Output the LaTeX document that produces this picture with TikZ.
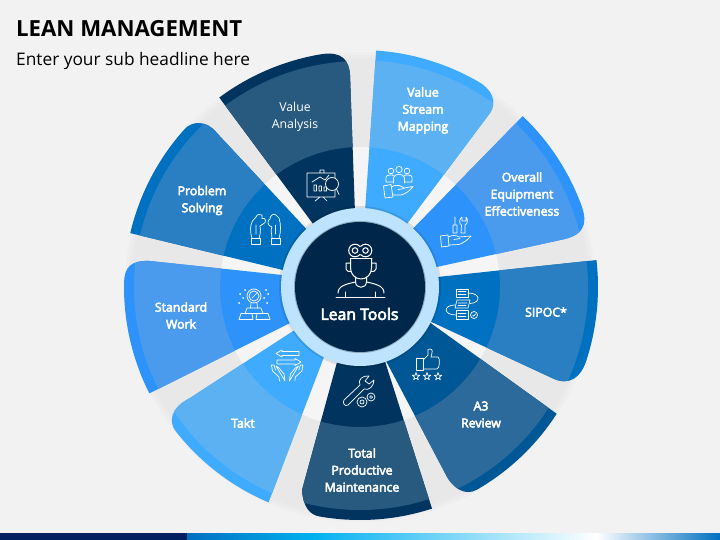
\documentclass[tikz,border=0pt]{standalone}
\usepackage{fontspec}
\setmainfont{Open Sans}
\newfontfamily\semifont[FakeBold=4]{Open Sans}
\usetikzlibrary{calc}
\definecolor{bgc}{HTML}{F2F2F2}
\definecolor{navyS}{HTML}{013560}\definecolor{navyO}{HTML}{285A80}
\definecolor{skyS}{HTML}{3FABFF}\definecolor{skyO}{HTML}{5BB1F2}
\definecolor{azS}{HTML}{2D93FB}\definecolor{azO}{HTML}{4A9AEE}
\definecolor{blS}{HTML}{0070C0}\definecolor{blO}{HTML}{2A7FC2}
\definecolor{steelS}{HTML}{005795}\definecolor{steelO}{HTML}{2B6A9B}
\definecolor{ringc}{HTML}{BDE3FF}\definecolor{corec}{HTML}{00264A}
\definecolor{barnavy}{HTML}{002060}\definecolor{barcyan}{HTML}{00B0F0}
\newcommand\pol[2]{([shift={(360,287)}]#1:#2)}
\newcommand\seg[6]{%
  \fill[#1] \pol{#3}{#5} arc[start angle=#3,end angle=#4,radius=#5] #6 -- cycle;
  \begin{scope}
    \clip \pol{#3}{#5} arc[start angle=#3,end angle=#4,radius=#5] #6 -- cycle;
    \fill[#2,even odd rule] (360,287) circle[radius=#5-10] (360,287) circle[radius=140];
  \end{scope}}
\tikzset{
  lbl/.style={text=white,align=center,inner sep=0pt,font=\semifont\fontsize{12.3}{17}\selectfont},
  lblthin/.style={text=white,align=center,inner sep=0pt,font=\fontsize{12.3}{17}\selectfont},
  ico/.style={draw=white,line width=0.7pt,line join=round,line cap=round},
  icob/.style={draw=white,line width=1pt,line join=round,line cap=round}
}
\begin{document}
\begin{tikzpicture}[x=1pt,y=-1pt]
\useasboundingbox (0,0) rectangle (720,540);
\fill[bgc] (0,0) rectangle (720,540);
% grey disc
\fill[black!6.5] (360,287) circle[radius=235];
\fill[black!8] (360,287) circle[radius=232];
\fill[black!9] (360,287) circle[radius=229];
\fill[black!4] (360,287) circle[radius=140];
% segments
\seg{navyS}{navyO}{-126.6}{-99.5}{236}{.. controls (342,51) and (349,60) .. (350,75) -- (356,240) -- (325,240)}
\seg{skyS}{skyO}{-86.1}{-60}{237}{.. controls (493,90) and (497,103) .. (490,113) -- (395,240) -- (363,240)}
\seg{azS}{azO}{-46.4}{-21.5}{236}{.. controls (586.6,217.5) and (589,233) .. (565,239) -- (400,275) -- (395,247)}
\seg{blS}{blO}{-6.5}{18.5}{238}{.. controls (581,376) and (570,387) .. (552,378) -- (395,305) -- (400,281)}
\seg{steelS}{steelO}{32.8}{60}{234}{.. controls (465,496.6) and (452,488) .. (445,473) -- (375,340) -- (400,301)}
\seg{navyS}{navyO}{72}{100}{233}{.. controls (310,515) and (303,507) .. (302,490) -- (345,333) -- (375,330)}
\seg{skyS}{skyO}{113}{142}{234}{.. controls (168.6,422) and (170,408) .. (190,398) -- (330,307) -- (340,315)}
\seg{azS}{azO}{153.2}{181}{236}{.. controls (124.3,268) and (130,260) .. (150,261) -- (320,279) -- (330,303)}
\seg{blS}{blO}{-166.8}{-138}{236}{.. controls (192,121) and (206,120) .. (216,132) -- (325,249) -- (320,279)}
% centre
\fill[black,opacity=.10] (360,287) circle[radius=81];
\fill[ringc] (360,287) circle[radius=79];
\fill[black,opacity=.25] (360,287) circle[radius=66];
\fill[corec] (360,287) circle[radius=65];
% title
\node[anchor=base west,inner sep=0pt,font=\bfseries\fontsize{22.2}{28}\selectfont] (title) at (16,37) {LEAN MANAGEMENT};
\node[anchor=base west,inner sep=0pt,font=\fontsize{17.3}{21}\selectfont] (sub) at (16,66) {Enter your sub headline here};
% labels
\node[lblthin] (va) at (295,117) {Value\\Analysis};
\node[lbl] (vsm) at (423,110.5) {Value\\Stream\\Mapping};
\node[lbl] (oee) at (522,194) {Overall\\Equipment\\Effectiveness};
\node[lbl] (sip) at (546,312) {SIPOC*};
\node[lbl] (a3) at (481,414.5) {A3\\Review};
\node[lbl] (tpm) at (362,470) {Total\\Productive\\Maintenance};
\node[lbl] (takt) at (243,423) {Takt};
\node[lbl] (sw) at (181,315.5) {Standard\\Work};
\node[lbl] (ps) at (202,200.5) {Problem\\Solving};
\node[text=white,inner sep=0pt,font=\semifont\fontsize{15.8}{19}\selectfont] (lt) at (359.5,314) {Lean Tools};
% centre icon
\draw[icob] (355,250.5) circle[radius=6.3] (365.5,250.5) circle[radius=6.3];
\fill[corec] (360.2,250.5) circle[radius=3.8];
\draw[icob] (355,250.5) circle[radius=2.8] (365.5,250.5) circle[radius=2.8];
\draw[icob] (350.5,258.5) -- (372,258.5);
\draw[icob] (350.5,258.5) -- (350.5,268) .. controls (350.5,274) and (355,279) .. (361,279) .. controls (367,279) and (371.5,274) .. (371.5,268) -- (371.5,258.5);
\draw[icob] (350.5,263) -- (346,263) -- (346,269) .. controls (346,271) and (349,272) .. (351,271.5) (371.5,263) -- (376,263) -- (376,269) .. controls (376,271) and (373,272) .. (371,271.5);
\draw[icob] (355.5,277) -- (355.5,282) .. controls (356,289) and (366,289) .. (366.5,282) -- (366.5,277);
\draw[icob] (338,293) .. controls (338,286) and (346,284) .. (355.5,282) (384,293) .. controls (384,286) and (376,284) .. (366.5,282);
\draw[icob] (336,297.5) -- (385,297.5) (345.5,292) -- (345.5,297.5) (375.5,292) -- (375.5,297.5);
% VA icon
\draw[ico] (307,173) rectangle (335,197) (320,173) -- (320,170) -- (324,170) -- (324,173) (320,197) -- (315,201) (323,197) -- (327,201);
\fill[corec!60!navyS] (332,184) circle[radius=6.5];
\draw[ico] (332,184) circle[radius=6.5] (336.5,189) -- (339,194.5);
\draw[ico] (314,191) rectangle (316.5,185) (319,191) rectangle (321.5,186) (324,191) rectangle (326.5,187) (312,182) -- (320,177) -- (325,180) -- (329,175);
% PS icon
\draw[ico] (251,238.5) rectangle (260,244) (271,238.5) rectangle (280,244);
\draw[ico] (252,238.5) .. controls (250,232) and (250,225) .. (252.5,221) -- (256,217) .. controls (257,214) and (260,214) .. (262,215) -- (262,218.5) .. controls (266,217) and (267,223) .. (263,224) -- (260,226) .. controls (261,231) and (260,235) .. (259,238.5) (256,225) -- (256,234);
\draw[ico] (272,238.5) .. controls (272,234) and (270,230) .. (272,227) .. controls (267,226) and (267,220) .. (270,219) .. controls (270,215) and (274,213) .. (276,215) -- (279,218) .. controls (281,224) and (281,232) .. (279,238.5) (275.5,225) -- (275.5,234);
% VSM icon
\draw[ico] (391,171) circle[radius=2.8] (399,169.5) circle[radius=3.2] (407,171) circle[radius=2.8];
\draw[ico] (386,182) -- (386,177) .. controls (386,175) and (393,174) .. (394,176) (412,182) -- (412,177) .. controls (412,175) and (405,174) .. (404,176) (393.5,183) -- (393.5,178) .. controls (394,173) and (404,173) .. (404.5,178) -- (404.5,183) (386,182) -- (393.5,182) (404.5,182) -- (412,182);
\draw[ico] (383.5,186) -- (391,184.5) -- (393,197) -- (385,198) -- cycle;
\draw[ico] (391.5,187) .. controls (398,183) and (402,187) .. (404,188) -- (413,186.5) .. controls (410,191) and (405,194) .. (401,195) -- (392.5,195) (398,189.5) -- (404,188.5);
% OEE icon
\draw[ico] (440.5,236) -- (448,235) -- (449,246) -- (441.5,247) -- cycle;
\draw[ico] (448,237) .. controls (452,235) and (456,235) .. (459,237) -- (471,236) .. controls (468,240) and (463,243) .. (459,244.5) -- (449,245) (454,239.5) -- (460,238.5);
\draw[ico] (455,217) -- (455,224) (453,225) rectangle (457,233) (461,233) -- (465,233) -- (465,225) .. controls (468,224) and (468,219) .. (466,217) -- (466,221) -- (462,221) -- (462,217) .. controls (459,219) and (459,224) .. (461.5,225) -- cycle;
% SIPOC icon
\draw[ico] (456,289) rectangle (468,297) (458,291.5) -- (466,291.5) (458,294) -- (466,294);
\draw[ico] (457,300) -- (470,300) -- (468,308) -- (455,308) -- cycle (458,303) -- (467,303) (458,305.5) -- (466,305.5);
\draw[ico] (456,310) rectangle (468,319) (458,313) -- (466,313) (458,316) -- (466,316);
\draw[ico] (468,293) .. controls (481,293) and (481,303) .. (470,303.5) (455,305) .. controls (443,305) and (443,315) .. (456,315);
\draw[ico] (474,315) circle[radius=3.5] (472.5,315) -- (473.7,316.2) -- (475.7,313.8);
% A3 icon
\draw[ico] (416,358) rectangle (423,370);
\draw[ico] (423,360) -- (428,355) -- (428,349.5) .. controls (431,348) and (433,350) .. (432,353) -- (431,357) -- (438,357) .. controls (440,357) and (440,369) .. (437,369) -- (423,369);
\foreach \sx in {416,427,438}{\draw[ico] ([shift={(\sx,376.5)}]-90:4) -- ([shift={(\sx,376.5)}]-54:1.6) -- ([shift={(\sx,376.5)}]-18:4) -- ([shift={(\sx,376.5)}]18:1.6) -- ([shift={(\sx,376.5)}]54:4) -- ([shift={(\sx,376.5)}]90:1.6) -- ([shift={(\sx,376.5)}]126:4) -- ([shift={(\sx,376.5)}]162:1.6) -- ([shift={(\sx,376.5)}]198:4) -- ([shift={(\sx,376.5)}]234:1.6) -- cycle;}
% TPM icon
\draw[ico] (344,400) .. controls (342,403) and (345,407) .. (348,405) -- (364,389) .. controls (369,391) and (374,386) .. (374,380) -- (369,384) -- (365,381) -- (369,376) .. controls (363,375) and (357,380) .. (360,385) -- cycle;
\draw[ico] (362,402) circle[radius=5] (362,402) circle[radius=2] (371,397) circle[radius=4] (371,397) circle[radius=1.5];
% Takt icon
\draw[ico] (276,353.5) -- (282,350) -- (282,351.5) -- (299,351.5) -- (299,355.5) -- (282,355.5) -- (282,357) -- cycle;
\draw[ico] (301,362) -- (295,358.5) -- (295,360) -- (277,360) -- (277,364) -- (295,364) -- (295,365.5) -- cycle;
\draw[ico] (279.5,381) -- (279,377) -- (272.5,371) -- (271.5,365) -- (274,365) -- (275.5,370) (276,366) -- (279,368) -- (284,374) -- (285,381) -- cycle;
\draw[ico] (294.9,381) -- (295.4,377) -- (301.9,371) -- (302.9,365) -- (300.4,365) -- (298.9,370) (298.4,366) -- (295.4,368) -- (290.4,374) -- (289.4,381) -- cycle;
% SW icon
\draw[ico] (254,296) circle[radius=7] (254,296) circle[radius=5] (252,298) -- (257,293);
\draw[ico] (251,303) -- (250.5,308) (257,303) -- (257.5,308);
\draw[ico] (247,308) -- (261,308) -- (263,313.5) -- (245,313.5) -- cycle;
\draw[ico] (241,313.5) -- (252,313.5) -- (253,319.5) -- (239,319.5) -- cycle (257,313.5) -- (268,313.5) -- (270,319.5) -- (256,319.5) -- cycle;
\foreach \dx/\dy in {240/294,245/290,266/290,268/294,239/303,267/303,243/298,264/298}{\fill[white] (\dx,\dy) circle[radius=1];}
% bottom bar
\fill[white] (0,532.5) rectangle (720,533.5);
\fill[left color=blS,right color=barcyan] (187,533) rectangle (312.5,540);
\fill[left color=barcyan,right color=white] (312,533) rectangle (596.5,540);
\fill[left color=white,right color=blS] (596,533) rectangle (720,540);
\fill[barnavy] (0,533) rectangle (187,540);
\end{tikzpicture}
\end{document}
